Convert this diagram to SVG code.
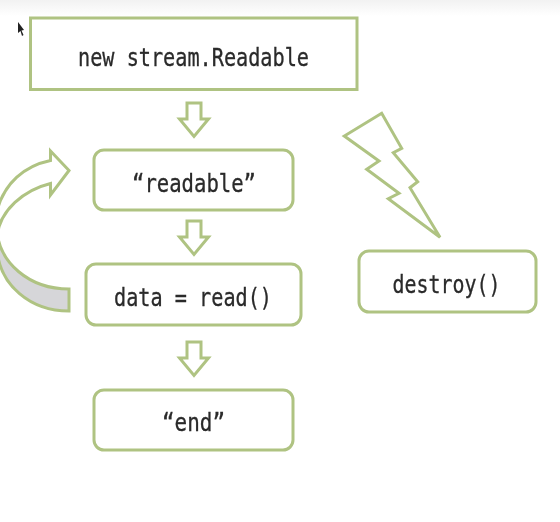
<svg xmlns="http://www.w3.org/2000/svg" width="560" height="522" viewBox="0 0 560 522">
  <style>
    .shape { fill: #ffffff; stroke: #afc382; stroke-width: 3; stroke-linejoin: miter; }
    .label { font-family: "DejaVu Sans Mono", "Liberation Mono", monospace; font-size: 24px; fill: #2a2a2a; stroke: #2a2a2a; stroke-width: 0.3; text-anchor: middle; }
  </style>
  <defs>
    <linearGradient id="topBand" x1="0" y1="0" x2="0" y2="1">
      <stop offset="0" stop-color="#f2f2f2"/>
      <stop offset="1" stop-color="#ffffff"/>
    </linearGradient>
    <filter id="soft" x="-5%" y="-5%" width="110%" height="110%">
      <feGaussianBlur stdDeviation="0.6"/>
    </filter>
    <path id="down" d="M-7 0H7V16H14.500L0 33.500L-14.500 16H-7Z"/>
  </defs>
  <rect width="560" height="522" fill="#ffffff"/>
  <rect width="560" height="16" fill="url(#topBand)"/>
  <g filter="url(#soft)">
    <g id="connectors">
      <use href="#down" class="shape" x="194" y="103"/>
      <use href="#down" class="shape" x="194" y="221"/>
      <use href="#down" class="shape" x="194" y="342"/>
      <g id="loop-arrow">
        <path class="shape" style="fill:#d6d6d9" d="M-3 232C0 262 28 289 69 289V311C30 311 0 285 -3 250Z"/>
        <path class="shape" d="M69 170.500L50.500 151V160.500C24 166 5 183 -3 210V236C0 210 24 190 50.500 183.500V195Z"/>
      </g>
    </g>
    <g id="node-new">
      <rect class="shape" x="30.500" y="18" width="326.500" height="71.500"/>
      <text class="label" x="193.500" y="66" textLength="231" lengthAdjust="spacingAndGlyphs">new stream.Readable</text>
    </g>
    <g id="node-readable">
      <rect class="shape" x="94" y="150" width="199" height="60" rx="10"/>
      <text class="label" x="194" y="192" textLength="124" lengthAdjust="spacingAndGlyphs">“readable”</text>
    </g>
    <g id="node-data">
      <rect class="shape" x="86" y="264" width="215" height="61" rx="10"/>
      <text class="label" x="193" y="306" textLength="158" lengthAdjust="spacingAndGlyphs">data = read()</text>
    </g>
    <g id="node-end">
      <rect class="shape" x="94" y="390" width="199" height="60" rx="10"/>
      <text class="label" x="193.500" y="431" textLength="63" lengthAdjust="spacingAndGlyphs">“end”</text>
    </g>
    <g id="node-destroy">
      <rect class="shape" x="359" y="251" width="177" height="61" rx="10"/>
      <text class="label" x="446.500" y="293" textLength="108" lengthAdjust="spacingAndGlyphs">destroy()</text>
    </g>
    <g id="bolt">
      <path class="shape" d="M381.700 113.300L344.300 136L379 161L366.700 169.300L399 193.300L388.300 198.700L440 237.300L410 187.700L417.700 181.700L393.300 152.700L401.700 148.300Z"/>
    </g>
    <path id="cursor" d="M18 22L18 33L20.500 31L22 36L23.500 35L21.500 30.500L24 30Z" fill="#222222"/>
  </g>
</svg>
